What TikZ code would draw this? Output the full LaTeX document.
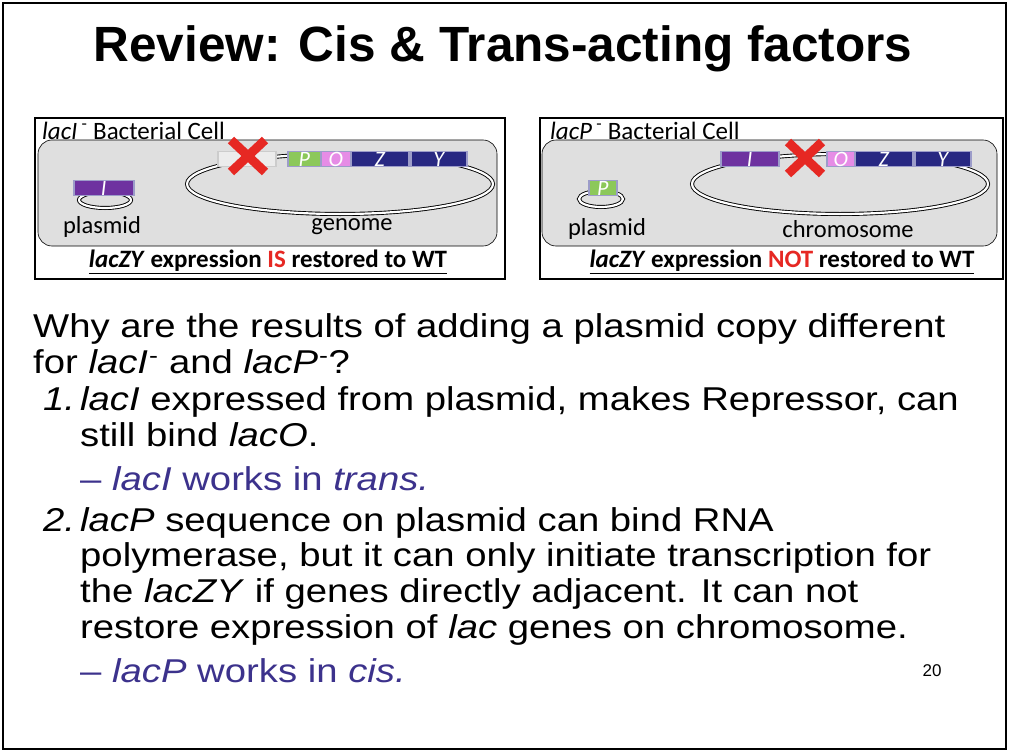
\documentclass[tikz,border=0pt]{standalone}
\usepackage{fontspec}
\setmainfont{Liberation Sans}
\newfontfamily\carl{Carlito}
\newfontfamily\bodyf[FakeStretch=1.16]{Liberation Sans}
\begin{document}
\begin{tikzpicture}[x=1pt,y=-1pt,
  gene/.style={draw=gray!70!blue!60,line width=1.5pt,minimum height=15pt,inner sep=0pt,anchor=west,text=white,font=\carl\itshape\fontsize{22}{22}\selectfont},
  cell/.style={draw=black,fill=gray!25,rounded corners=14pt,line width=0.6pt},
  lbl/.style={font=\carl\fontsize{24.5}{24}\selectfont},
  body/.style={anchor=base west,inner sep=0pt,font=\bodyf\fontsize{33}{33}\selectfont},
  ring/.style={double=white,draw=black,double distance=2.2pt,line width=0.9pt}]
\definecolor{gP}{RGB}{140,200,90}
\definecolor{pO}{RGB}{230,140,230}
\definecolor{nv}{RGB}{40,40,130}
\definecolor{pu}{RGB}{110,50,160}
\definecolor{bl}{RGB}{60,50,140}
\definecolor{rx}{RGB}{230,40,35}
\useasboundingbox (0,0) rectangle (1009,752);
\draw[line width=1.2pt] (3,3) rectangle (1006,749);
\node[anchor=base,inner sep=0pt,font=\bfseries\fontsize{49.5}{49}\selectfont] (title) at (503,62) {Review: Cis \& Trans-acting factors};
% left panel
\draw[line width=1.2pt] (35,118) rectangle (505,279);
\draw[cell] (38,140) rectangle (497,246);
\node[anchor=base west,inner sep=0pt,font=\carl\fontsize{25}{25}\selectfont] (lt) at (42,139) {\textit{lacI}\,\textsuperscript{-}\ Bacterial Cell};
\draw[ring] (340,184) ellipse (153pt and 30pt);
\draw[ring] (105,200) ellipse (26pt and 8pt);
\node[gene,fill=pu,minimum width=60pt] (Ip) at (73,188) {I};
\node[gene,fill=gray!15,draw=gray!40,minimum width=58pt] (Ig) at (217,159) {};
\node[gene,fill=gP,minimum width=33pt] (Pg) at (287,159) {P};
\node[gene,fill=pO,minimum width=30pt] (Og) at (320,159) {O};
\node[gene,fill=nv,minimum width=58pt] (Zg) at (350,159) {Z};
\node[gene,fill=nv,minimum width=56pt] (Yg) at (410,159) {Y};
\draw[rx,line width=9pt] (231,140) -- (265,172) (265,140) -- (231,172);
\node[lbl] (pl) at (102,227) {plasmid};
\node[lbl] (gl) at (352,227) {genome};
\node[font=\carl\bfseries\fontsize{25}{25}\selectfont] (lr) at (268,262) {\underline{\textit{lacZY} expression \textcolor{rx}{IS} restored to WT}};
% right panel
\draw[line width=1.2pt] (540,118) rectangle (1003,279);
\draw[cell] (542,140) rectangle (997,246);
\node[anchor=base west,inner sep=0pt,font=\carl\fontsize{25}{25}\selectfont] (rt) at (550,139) {\textit{lacP}\,\textsuperscript{-}\ Bacterial Cell};
\draw[ring] (840,184) ellipse (148pt and 30pt);
\draw[ring] (601,199) ellipse (22pt and 8pt);
\node[gene,fill=gP,minimum width=28pt] (Pp) at (588,188) {P};
\node[gene,fill=pu,minimum width=58pt] (Ic) at (720,159) {I};
\node[gene,fill=pO,minimum width=28pt] (Oc) at (826,159) {O};
\node[gene,fill=nv,minimum width=58pt] (Zc) at (854,159) {Z};
\node[gene,fill=nv,minimum width=56pt] (Yc) at (914,159) {Y};
\draw[rx,line width=9pt] (788,142) -- (822,174) (822,142) -- (788,174);
\node[lbl] (pr) at (607,229) {plasmid};
\node[lbl] (cr) at (848,229) {chromosome};
\node[font=\carl\bfseries\fontsize{25}{25}\selectfont] (rr) at (782,262) {\underline{\textit{lacZY} expression \textcolor{rx}{NOT} restored to WT}};
% body text
\node[body] (t1) at (33,337) {Why are the results of adding a plasmid copy different};
\node[body] (t2) at (33,373) {for \textit{lacI}\kern1pt\textsuperscript{-} and \textit{lacP}\kern1pt\textsuperscript{-}?};
\node[body] (n1) at (43,410) {\textit{1.}};
\node[body] (t3) at (80,410) {\textit{lacI} expressed from plasmid, makes Repressor, can};
\node[body] (t4) at (80,446) {still bind \textit{lacO}.};
\node[body,text=bl] (t5) at (80,490) {– \textit{lacI} works in \textit{trans.}};
\node[body] (n2) at (43,531) {\textit{2.}};
\node[body] (t6) at (80,531) {\textit{lacP} sequence on plasmid can bind RNA};
\node[body] (t7) at (80,566) {polymerase, but it can only initiate transcription for};
\node[body] (t8) at (80,602) {the \textit{lacZY} if genes directly adjacent. It can not};
\node[body] (t9) at (80,638) {restore expression of \textit{lac} genes on chromosome.};
\node[body,text=bl] (t10) at (80,682) {– \textit{lacP} works in \textit{cis.}};
\node[anchor=base,inner sep=0pt,font=\fontsize{17}{17}\selectfont] (pg) at (932,676) {20};
\end{tikzpicture}
\end{document}
